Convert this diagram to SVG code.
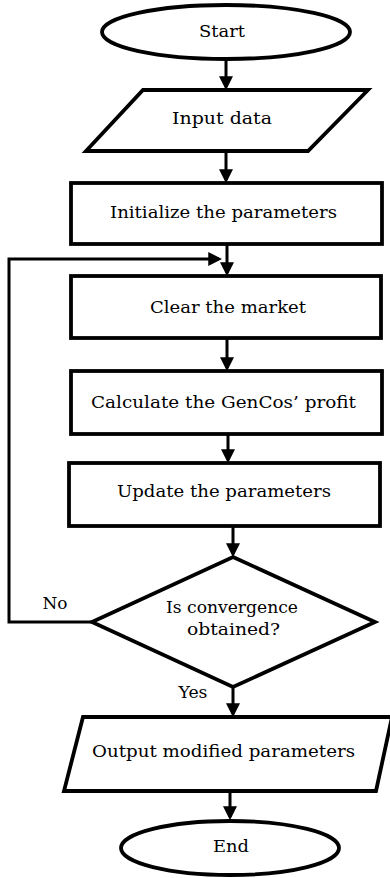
<svg xmlns="http://www.w3.org/2000/svg" width="390" height="878" viewBox="0 0 390 878">
<style>
.shape{fill:#fff;stroke:#000;stroke-width:3.8;stroke-linejoin:miter}
.conn{fill:none;stroke:#000;stroke-width:3}
text{font-family:"DejaVu Serif","Liberation Serif",serif;font-size:16.5px;fill:#000;text-anchor:middle}
</style>
<defs>
<marker id="arr" markerUnits="userSpaceOnUse" markerWidth="14" markerHeight="14" refX="10" refY="6.5" orient="auto" viewBox="0 0 13 13">
<path d="M0,0 L13,6.5 L0,13 z" fill="#000"/>
</marker>
</defs>
<g id="connectors">
<line class="conn" x1="226" y1="60" x2="226" y2="87" marker-end="url(#arr)"/>
<line class="conn" x1="226" y1="152" x2="226" y2="180" marker-end="url(#arr)"/>
<line class="conn" x1="227" y1="245" x2="227" y2="273" marker-end="url(#arr)"/>
<line class="conn" x1="227" y1="339" x2="227" y2="368" marker-end="url(#arr)"/>
<line class="conn" x1="228" y1="435" x2="228" y2="460" marker-end="url(#arr)"/>
<line class="conn" x1="233" y1="527" x2="233" y2="554" marker-end="url(#arr)"/>
<line class="conn" x1="233" y1="687" x2="233" y2="714" marker-end="url(#arr)"/>
<line class="conn" x1="230" y1="792" x2="230" y2="817" marker-end="url(#arr)"/>
<polyline class="conn" points="92,622 9,622 9,259 219,259" marker-end="url(#arr)"/>
<text x="55" y="609" textLength="25" lengthAdjust="spacingAndGlyphs">No</text>
<text x="193" y="698" textLength="29" lengthAdjust="spacingAndGlyphs">Yes</text>
</g>
<g id="start">
<ellipse class="shape" cx="226" cy="32" rx="124" ry="27"/>
<text x="222" y="37" textLength="46" lengthAdjust="spacingAndGlyphs">Start</text>
</g>
<g id="input">
<polygon class="shape" points="143,90 368,90 308,151 86,151"/>
<text x="222" y="124" textLength="100" lengthAdjust="spacingAndGlyphs">Input data</text>
</g>
<g id="init">
<rect class="shape" x="71" y="183" width="311" height="61"/>
<text x="223.5" y="218" textLength="227" lengthAdjust="spacingAndGlyphs">Initialize the parameters</text>
</g>
<g id="clear">
<rect class="shape" x="71" y="276" width="310" height="62"/>
<text x="228" y="313" textLength="156" lengthAdjust="spacingAndGlyphs">Clear the market</text>
</g>
<g id="calc">
<rect class="shape" x="71" y="371" width="311" height="63"/>
<text x="223.5" y="408" textLength="265" lengthAdjust="spacingAndGlyphs">Calculate the GenCos’ profit</text>
</g>
<g id="update">
<rect class="shape" x="69" y="463" width="311" height="63"/>
<text x="224" y="497" textLength="214" lengthAdjust="spacingAndGlyphs">Update the parameters</text>
</g>
<g id="decision">
<polygon class="shape" points="233,557 375,622 233,687 92,622"/>
<text x="232" y="613" textLength="132" lengthAdjust="spacingAndGlyphs">Is convergence</text>
<text x="233.5" y="635" textLength="93" lengthAdjust="spacingAndGlyphs">obtained?</text>
</g>
<g id="output">
<polygon class="shape" points="83,717 392,717 376,791 64,791"/>
<text x="223.5" y="757" textLength="263" lengthAdjust="spacingAndGlyphs">Output modified parameters</text>
</g>
<g id="end">
<ellipse class="shape" cx="230" cy="848" rx="109" ry="27"/>
<text x="231" y="852" textLength="36" lengthAdjust="spacingAndGlyphs">End</text>
</g>
</svg>
